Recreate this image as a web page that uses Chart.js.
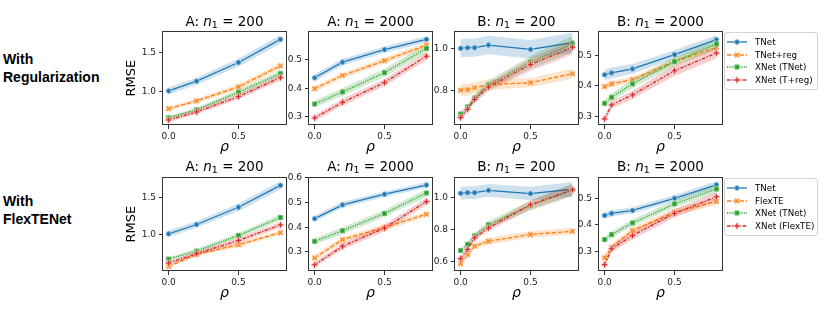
<!DOCTYPE html>
<html><head><meta charset="utf-8">
<script src="https://cdn.jsdelivr.net/npm/chart.js@4.4.1/dist/chart.umd.min.js"></script>
<style>
html,body{margin:0;padding:0;background:#fff}
#root{position:relative;width:837px;height:316px;overflow:hidden;font-family:"DejaVu Sans",sans-serif;color:#000}
canvas.cv{position:absolute}
.ttl{position:absolute;font-size:13.5px;line-height:16px;white-space:nowrap;transform:translateX(-50%)}
.ttl i{font-style:italic}
.ttl sub{font-size:70%;line-height:0;vertical-align:-0.25em}
.rowlab{position:absolute;left:3px;font-family:"Liberation Sans",Arial,sans-serif;font-weight:bold;font-size:14px;line-height:18px}
.leg{position:absolute;border:1px solid #d3d3d3;border-radius:3px;background:#fff;box-sizing:border-box;padding:3px 0 0 2px;font-size:8.7px}
.leg .it{display:flex;align-items:center;height:12.5px;white-space:nowrap}
.leg canvas{margin-right:8px}
</style></head>
<body><div id="root"></div>
<script>
// ---------- data ----------
const rhoA = [0, 0.2, 0.5, 0.8];
const rhoB = [0, 0.05, 0.1, 0.2, 0.5, 0.8];
const rhoB2k = [0, 0.05, 0.2, 0.5, 0.8];
const xTickVals = [0, 0.5];

const namesReg = ['TNet', 'TNet+reg', 'XNet (TNet)', 'XNet (T+reg)'];
const namesFlex = ['TNet', 'FlexTE', 'XNet (TNet)', 'XNet (FlexTE)'];
const rowLabels = [['With', 'Regularization'], ['With', 'FlexTENet']];
const panelSetting = ['A', 'A', 'B', 'B'];
const panelN = ['200', '2000', '200', '2000'];

// Row 1: With Regularization  (order: TNet, TNet+reg, XNet (TNet), XNet (T+reg))
const regA200 = [[1.009, 1.133, 1.372, 1.667], [0.782, 0.881, 1.060, 1.329], [0.667, 0.769, 0.992, 1.231], [0.637, 0.740, 0.936, 1.179]];
const regA200Ci = [[0.045, 0.045, 0.050, 0.055], [0.025, 0.030, 0.035, 0.040], [0.020, 0.025, 0.035, 0.040], [0.025, 0.030, 0.035, 0.040]];
const regA2000 = [[0.437, 0.492, 0.536, 0.572], [0.399, 0.445, 0.497, 0.552], [0.345, 0.387, 0.455, 0.540], [0.296, 0.351, 0.420, 0.513]];
const regA2000Ci = [[0.013, 0.012, 0.011, 0.011], [0.010, 0.010, 0.010, 0.010], [0.012, 0.013, 0.014, 0.015], [0.010, 0.012, 0.013, 0.014]];
const regB200 = [[1.003, 1.006, 1.006, 1.019, 0.998, 1.030], [0.800, 0.803, 0.812, 0.827, 0.837, 0.880], [0.685, 0.720, 0.763, 0.827, 0.936, 1.024], [0.668, 0.708, 0.756, 0.816, 0.925, 1.008]];
const regB200Ci = [[0.044, 0.044, 0.044, 0.045, 0.045, 0.048], [0.030, 0.028, 0.027, 0.025, 0.022, 0.024], [0.012, 0.015, 0.018, 0.022, 0.030, 0.040], [0.010, 0.013, 0.016, 0.020, 0.030, 0.035]];
const regB2000 = [[0.436, 0.442, 0.455, 0.502, 0.551], [0.397, 0.406, 0.420, 0.479, 0.526], [0.342, 0.362, 0.406, 0.479, 0.537], [0.291, 0.337, 0.370, 0.449, 0.507]];
const regB2000Ci = [[0.018, 0.018, 0.016, 0.014, 0.014], [0.010, 0.010, 0.010, 0.011, 0.011], [0.012, 0.013, 0.014, 0.015, 0.016], [0.010, 0.012, 0.014, 0.017, 0.018]];

// Row 2: With FlexTENet  (order: TNet, FlexTE, XNet (TNet), XNet (FlexTE))
const flexA200 = [[1.009, 1.135, 1.369, 1.666], [0.567, 0.730, 0.861, 1.023], [0.666, 0.775, 0.986, 1.230], [0.612, 0.739, 0.919, 1.130]];
const flexA200Ci = [[0.045, 0.045, 0.050, 0.055], [0.020, 0.025, 0.030, 0.030], [0.025, 0.030, 0.035, 0.040], [0.025, 0.030, 0.035, 0.040]];
const flexA2000 = [[0.435, 0.491, 0.534, 0.571], [0.276, 0.350, 0.399, 0.453], [0.343, 0.386, 0.456, 0.539], [0.248, 0.323, 0.397, 0.504]];
const flexA2000Ci = [[0.012, 0.012, 0.011, 0.011], [0.012, 0.012, 0.012, 0.010], [0.013, 0.014, 0.014, 0.015], [0.010, 0.013, 0.014, 0.015]];
const flexB200 = [[1.025, 1.029, 1.029, 1.043, 1.023, 1.050], [0.586, 0.642, 0.695, 0.726, 0.768, 0.788], [0.668, 0.706, 0.761, 0.830, 0.948, 1.046], [0.617, 0.675, 0.747, 0.809, 0.954, 1.047]];
const flexB200Ci = [[0.040, 0.040, 0.040, 0.040, 0.042, 0.045], [0.015, 0.018, 0.020, 0.020, 0.020, 0.020], [0.012, 0.015, 0.018, 0.022, 0.030, 0.040], [0.010, 0.012, 0.015, 0.020, 0.028, 0.035]];
const flexB2000 = [[0.435, 0.443, 0.454, 0.500, 0.551], [0.275, 0.315, 0.378, 0.447, 0.488], [0.344, 0.363, 0.407, 0.479, 0.535], [0.249, 0.309, 0.359, 0.443, 0.506]];
const flexB2000Ci = [[0.012, 0.012, 0.012, 0.012, 0.013], [0.012, 0.013, 0.013, 0.013, 0.013], [0.010, 0.012, 0.013, 0.014, 0.015], [0.010, 0.013, 0.015, 0.016, 0.017]];

// axis limits and tick values per panel
const yLimits = [[0.573, 1.769], [0.271, 0.600], [0.632, 1.085], [0.271, 0.578], [0.504, 1.774], [0.223, 0.602], [0.540, 1.124], [0.225, 0.579]];
const yTicks = [[1.0, 1.5], [0.3, 0.4, 0.5], [0.8, 1.0], [0.3, 0.4, 0.5], [1.0, 1.5], [0.3, 0.4, 0.5, 0.6], [0.6, 0.8, 1.0], [0.3, 0.4, 0.5]];

// ---------- styling / layout ----------
const COLORS = ['#1f77b4', '#ff7f0e', '#2ca02c', '#d62728'];
const BANDS = ['rgba(31,119,180,0.22)', 'rgba(255,127,14,0.22)', 'rgba(44,160,44,0.22)', 'rgba(214,39,40,0.22)'];
const DASHES = [[], [4.5, 1.8], [1.2, 1.2], [3.6, 1.4, 1.4, 1.4]];
const SHAPES = ['circle', 'x', 'square', 'plus'];
const colL = [163, 309, 455, 599], W = 123, rowT = [31, 177], H = 94;
const PADL = 42, PADT = 8, PADR = 8, XH = 36;
const root = document.getElementById('root');

function makeMarker(shape, color) {
  const S = 9, c = document.createElement('canvas');
  c.width = S; c.height = S;
  const g = c.getContext('2d');
  g.translate(S / 2, S / 2);
  g.fillStyle = color; g.strokeStyle = '#fff'; g.lineWidth = 0.6;
  g.beginPath();
  if (shape === 'circle') g.arc(0, 0, 2.7, 0, Math.PI * 2);
  else if (shape === 'square') g.rect(-2.6, -2.6, 5.2, 5.2);
  else {
    const a = 3.3, w = 1.05;
    const pts = [[-w, -a], [w, -a], [w, -w], [a, -w], [a, w], [w, w], [w, a], [-w, a], [-w, w], [-a, w], [-a, -w], [-w, -w]];
    if (shape === 'x') g.rotate(Math.PI / 4);
    pts.forEach((p, i) => i ? g.lineTo(p[0], p[1]) : g.moveTo(p[0], p[1]));
    g.closePath();
  }
  g.fill(); g.stroke();
  return c;
}
const markers = SHAPES.map((s, i) => makeMarker(s, COLORS[i]));

const frame = {
  id: 'frame',
  afterDraw(c) {
    const a = c.chartArea, g = c.ctx;
    g.save();
    g.strokeStyle = '#333'; g.lineWidth = 1;
    g.strokeRect(Math.round(a.left) - 0.5, Math.round(a.top) + 0.5, Math.round(a.right - a.left) + 1, Math.round(a.bottom - a.top) - 1);
    g.restore();
  }
};

const panels = [
  { x: rhoA, v: regA200, ci: regA200Ci }, { x: rhoA, v: regA2000, ci: regA2000Ci },
  { x: rhoB, v: regB200, ci: regB200Ci }, { x: rhoB2k, v: regB2000, ci: regB2000Ci },
  { x: rhoA, v: flexA200, ci: flexA200Ci }, { x: rhoA, v: flexA2000, ci: flexA2000Ci },
  { x: rhoB, v: flexB200, ci: flexB200Ci }, { x: rhoB2k, v: flexB2000, ci: flexB2000Ci }
];

const tickFont = { family: 'DejaVu Sans', size: 9 };

panels.forEach((p, k) => {
  const row = Math.floor(k / 4), col = k % 4;
  const cv = document.createElement('canvas');
  cv.className = 'cv';
  const w = PADL + W + PADR, h = PADT + H + XH;
  cv.width = w; cv.height = h;
  cv.style.width = w + 'px'; cv.style.height = h + 'px';
  cv.style.left = (colL[col] - PADL) + 'px'; cv.style.top = (rowT[row] - PADT) + 'px';
  root.appendChild(cv);

  const names = row === 0 ? namesReg : namesFlex;
  const datasets = [];
  for (let i = 0; i < 4; i++) {
    const ord = (3 - i) * 2;
    datasets.push({ data: p.x.map((xx, j) => ({ x: xx, y: p.v[i][j] - p.ci[i][j] })), borderColor: 'rgba(0,0,0,0)', borderWidth: 0, pointRadius: 0, fill: false, order: ord + 1 });
    datasets.push({ data: p.x.map((xx, j) => ({ x: xx, y: p.v[i][j] + p.ci[i][j] })), borderColor: 'rgba(0,0,0,0)', borderWidth: 0, pointRadius: 0, fill: '-1', backgroundColor: BANDS[i], order: ord + 1 });
    datasets.push({ label: names[i], data: p.x.map((xx, j) => ({ x: xx, y: p.v[i][j] })), borderColor: COLORS[i], backgroundColor: COLORS[i], borderWidth: 1.3, borderDash: DASHES[i], pointStyle: markers[i], pointRadius: 3, fill: false, tension: 0, order: ord });
  }

  new Chart(cv, {
    type: 'line',
    data: { datasets },
    options: {
      responsive: false, animation: false, devicePixelRatio: 1, events: [],
      layout: { padding: { left: 0, right: PADR, top: PADT, bottom: 0 } },
      plugins: { legend: { display: false }, tooltip: { enabled: false } },
      scales: {
        x: {
          type: 'linear', min: -0.04, max: 0.84,
          afterBuildTicks: s => { s.ticks = xTickVals.map(v => ({ value: v })); },
          afterFit: s => { s.height = XH; },
          ticks: { callback: v => Number(v).toFixed(1), font: tickFont, color: '#222', padding: 2, maxRotation: 0, autoSkip: false },
          grid: { drawOnChartArea: false, drawTicks: true, tickLength: 4, color: '#333', lineWidth: 1 },
          border: { display: false },
          title: { display: true, text: 'ρ', font: { family: 'DejaVu Sans', style: 'italic', size: 14 }, color: '#000', padding: { top: 0, bottom: 5 } }
        },
        y: {
          type: 'linear', min: yLimits[k][0], max: yLimits[k][1],
          afterBuildTicks: s => { s.ticks = yTicks[k].map(v => ({ value: v })); },
          afterFit: s => { s.width = PADL; },
          ticks: { callback: v => Number(v).toFixed(1), font: tickFont, color: '#222', padding: 3, autoSkip: false },
          grid: { drawOnChartArea: false, drawTicks: true, tickLength: 4, color: '#333', lineWidth: 1 },
          border: { display: false },
          title: { display: col === 0, text: 'RMSE', font: { family: 'DejaVu Sans', size: 13 }, color: '#000', padding: { top: 2.5, bottom: 0 } }
        }
      }
    },
    plugins: [frame]
  });

  const t = document.createElement('div');
  t.className = 'ttl';
  t.style.left = (colL[col] + W / 2) + 'px';
  t.style.top = (row === 0 ? 13 : 158) + 'px';
  t.innerHTML = panelSetting[col] + ': <i>n</i><sub>1</sub> = ' + panelN[col];
  root.appendChild(t);
});

function legend(names, left, top) {
  const d = document.createElement('div');
  d.className = 'leg';
  d.style.left = left + 'px'; d.style.top = top + 'px';
  d.style.width = '94px'; d.style.height = '58px';
  names.forEach((n, i) => {
    const it = document.createElement('div'); it.className = 'it';
    const c = document.createElement('canvas'); c.width = 20; c.height = 10;
    const g = c.getContext('2d');
    g.strokeStyle = COLORS[i]; g.lineWidth = 1.3; g.setLineDash(DASHES[i]);
    g.beginPath(); g.moveTo(0, 5); g.lineTo(20, 5); g.stroke();
    g.drawImage(markers[i], 10 - 4.5, 5 - 4.5);
    it.appendChild(c);
    const s = document.createElement('span'); s.textContent = n; it.appendChild(s);
    d.appendChild(it);
  });
  root.appendChild(d);
}
legend(namesReg, 724, 32);
legend(namesFlex, 724, 178);

rowLabels.forEach((r, i) => {
  const d = document.createElement('div');
  d.className = 'rowlab';
  d.style.top = (i === 0 ? 50 : 192) + 'px';
  d.innerHTML = r.join('<br>');
  root.appendChild(d);
});
</script></body></html>
